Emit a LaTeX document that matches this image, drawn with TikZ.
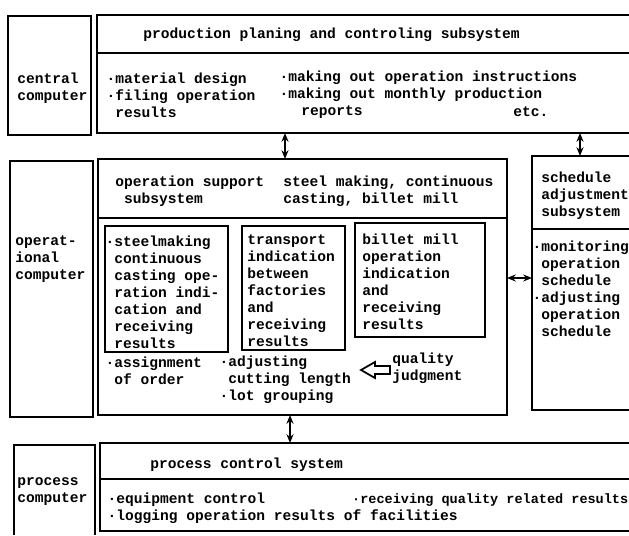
\documentclass[tikz,border=0pt]{standalone}
\usepackage{fontspec}
\setmonofont{Liberation Mono}
\usetikzlibrary{arrows.meta}
\newcommand{\dotItem}{\llap{·}}

\begin{document}
\begin{tikzpicture}[%
  x=0.02cm,y=-0.02cm,%
  lineStyle/.style={-,line width=1pt},%
  arrowStyle/.style={{Stealth[length=5pt,width=4pt]}-{Stealth[length=5pt,width=4pt]},line width=0.9pt},%
  textStyle/.style={font=\ttfamily\bfseries\fontsize{8.3}{9.7}\selectfont,inner sep=0pt,align=left,anchor=west},%
  narrowStyle/.style={textStyle,font=\ttfamily\bfseries\fontsize{7.7}{9.7}\selectfont}%
]
%
\useasboundingbox (0,0) rectangle (629,535);
\pgfmathsetmacro{\xright}{629}
%
% Link points between the levels.
\coordinate (planLink) at (285,133);
\coordinate (supportLink) at (285,159);
\coordinate (planLinkB) at (580,133);
\coordinate (schedLink) at (580,156);
\coordinate (supportSide) at (507,278);
\coordinate (schedSide) at (532,278);
\coordinate (supportDown) at (290,415);
\coordinate (processLink) at (290,443);
%
%
% Central computer level.
\draw[lineStyle] (8,16) rectangle (91,135);
\node[textStyle] (centralLabel) at (17,88) {central\\computer};
\draw[lineStyle] (\xright,15) -- (97,15) -- (97,133) -- (\xright,133);
\draw[lineStyle] (97,53) -- (\xright,53);
\node[textStyle] (planTitle) at (143,35) {production planing and controling subsystem};
\node[textStyle] (planLeft) at (115,95) {\dotItem material design\\\dotItem filing operation\\results};
\node[textStyle] (planRight) at (288,95) {\dotItem making out operation instructions\\\dotItem making out monthly production\\\hspace*{0.9em}reports};
\node[textStyle] (planEtc) at (513,112) {etc.};
%
% Operational computer level.
\draw[lineStyle] (10,161) rectangle (93,417);
\node[textStyle] (operLabel) at (15,259) {operat-\\ional\\computer};
\draw[lineStyle] (98,159) rectangle (507,415);
\draw[lineStyle] (98,218) -- (507,218);
\node[textStyle] (supportTitle) at (115,191) {operation support\\\hspace*{0.6em}subsystem};
\node[textStyle] (supportScope) at (283,191) {steel making, continuous\\casting, billet mill};
% The three indication boxes.
\draw[lineStyle] (105,226) rectangle (228,352);
\node[textStyle] (castingText) at (114,292) {\dotItem steelmaking\\continuous\\casting ope-\\ration indi-\\cation and\\receiving\\results};
\draw[lineStyle] (242,226) rectangle (345,350);
\node[textStyle] (transportText) at (247,291) {transport\\indication\\between\\factories\\and\\receiving\\results};
\draw[lineStyle] (355,223) rectangle (485,337);
\node[textStyle] (billetText) at (362,282) {billet mill\\operation\\indication\\and\\receiving\\results};
% Items under the boxes.
\node[textStyle] (orderText) at (114,371) {\dotItem assignment\\of order};
\node[textStyle] (cuttingText) at (228,380) {\dotItem adjusting\\cutting length\\\dotItem lot grouping};
\node[textStyle] (qualityText) at (392,368) {quality\\judgment};
\draw[lineStyle] (361,370) -- (375,362) -- (375,366) -- (390,366) -- (390,374) -- (375,374) -- (375,378) -- cycle;
%
% Schedule adjustment subsystem.
\draw[lineStyle] (\xright,156) -- (532,156) -- (532,410) -- (\xright,410);
\draw[lineStyle] (532,229) -- (\xright,229);
\node[textStyle] (schedTitle) at (541,196) {schedule\\adjustment\\subsystem};
\node[textStyle] (schedText) at (541,289) {\dotItem monitoring\\operation\\schedule\\\dotItem adjusting\\operation\\schedule};
%
% Process computer level.
\draw[lineStyle] (14,535) -- (14,445) -- (95,445) -- (95,535);
\node[textStyle] (processLabel) at (17,492) {process\\computer};
\draw[lineStyle] (\xright,443) -- (100,443) -- (100,531) -- (\xright,531);
\draw[lineStyle] (100,479) -- (\xright,479);
\node[textStyle] (processTitle) at (150,465) {process control system};
\node[textStyle] (processLeft) at (116,508) {\dotItem equipment control\\\dotItem logging operation results of facilities};
\node[narrowStyle] (processRight) at (360,500) {\dotItem receiving quality related results};
%
% Links.  Drawn last.
\draw[arrowStyle] (planLink) -- (supportLink);
\draw[arrowStyle] (planLinkB) -- (schedLink);
\draw[arrowStyle] (supportSide) -- (schedSide);
\draw[arrowStyle] (supportDown) -- (processLink);
\end{tikzpicture}
\end{document}
